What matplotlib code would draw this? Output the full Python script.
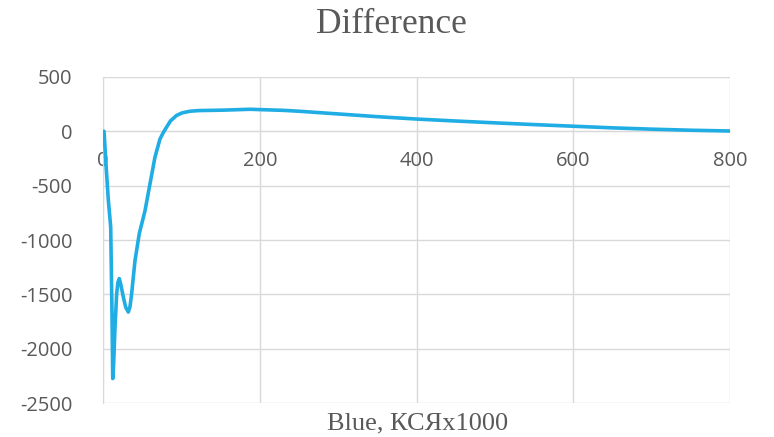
import matplotlib
matplotlib.use('Agg')
import matplotlib.pyplot as plt
import numpy as np

plt.rcParams['axes.unicode_minus'] = False

# values
blue_x = [0, 1.3, 4, 6.8, 9.8, 11.5, 12.4, 13.5, 15.3, 17.4, 19, 20.8, 23, 25.9, 29, 32.3, 34.5,
          36.5, 40.8, 46.3, 53.6, 60, 66.3, 72.7, 77, 81.2, 86, 93.9, 101, 111, 122, 153,
          187.5, 230, 250, 300, 350, 400, 450, 500, 550, 600, 650, 700, 750, 800]
diff_y = [0, 0, -330, -635, -880, -1700, -2275, -2150, -1800, -1495, -1390, -1355, -1420, -1525,
          -1620, -1663, -1610, -1495, -1190, -940, -730, -480, -237, -70, -10, 40, 95, 147,
          170, 185, 191, 195, 203, 193, 185, 160, 135, 113, 95, 78, 62, 47, 32, 20, 10, 3]

x_ticks = [0, 200, 400, 600, 800]
y_ticks = [-2500, -2000, -1500, -1000, -500, 0, 500]

gray = '#595959'
grid_c = '#d9d9d9'

fig = plt.figure(figsize=(7.74, 4.37), dpi=100)
ax = fig.add_axes([0.1331, 0.0778, 0.8101, 0.746])

ax.plot(blue_x, diff_y, color='#1FADE4', lw=2.6, solid_capstyle='round',
        solid_joinstyle='round', zorder=3)

ax.set_xlim(0, 800)
ax.set_ylim(-2500, 500)
ax.set_xticks(x_ticks)
ax.set_yticks(y_ticks)
ax.grid(True, color=grid_c, lw=1)
ax.set_axisbelow(True)

for s in ['top', 'right']:
    ax.spines[s].set_visible(False)
ax.spines['bottom'].set_position(('data', 0))
ax.spines['bottom'].set_color(grid_c)
ax.spines['left'].set_color(grid_c)

ax.tick_params(axis='both', length=0, labelcolor=gray, labelsize=14.5)
ax.tick_params(axis='y', pad=22)
ax.tick_params(axis='x', pad=14)
for lab in ax.get_xticklabels() + ax.get_yticklabels():
    lab.set_fontfamily('Open Sans')

fig.text(0.506, 0.943, 'Difference', ha='center', va='center', fontsize=25.5,
         family='Liberation Serif', color=gray)
fig.text(0.54, 0.03, 'Blue, КСЯx1000', ha='center', va='center', fontsize=19,
         family='Liberation Serif', color=gray)

fig.savefig('out.png', dpi=100)
